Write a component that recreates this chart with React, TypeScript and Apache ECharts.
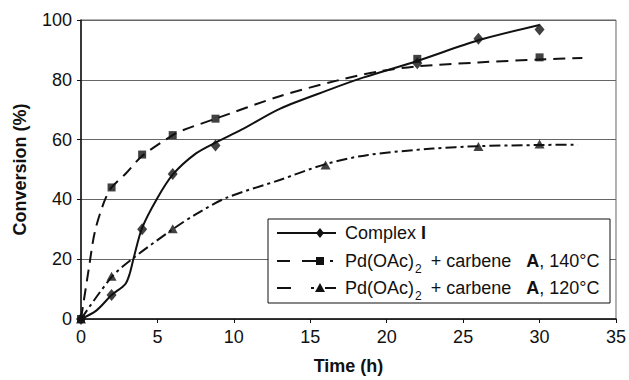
import React, { useEffect, useRef } from "react";
import * as echarts from "echarts";

// Measured points (markers)
const complexPts: number[][] = [[0, 0], [2, 8], [4, 30], [6, 48.5], [8.8, 58], [22, 85.5], [26, 93.7], [30, 96.8]];
const pd140Pts: number[][] = [[0, 0], [2, 44], [4, 55], [6, 61.5], [8.8, 67], [22, 87], [30, 87.5]];
const pd120Pts: number[][] = [[0, 0], [2, 14.3], [6, 30.2], [16, 51.5], [26, 57.7], [30, 58.5]];

// Curves (fitted lines drawn in the original)
const complexCurve: number[][] = [[0, 0], [1, 2.8], [2, 8], [2.9, 11.7], [3.2, 15.4], [3.45, 20.5], [4, 30.5], [5, 40.5], [6, 48.3], [7.5, 55.3], [8.8, 59], [10.5, 63.3], [13, 70.3], [16.3, 76.8], [18.5, 80.8], [22, 86.3], [26, 93.2], [30, 98.3]];
const pd140Curve: number[][] = [[0, 0], [0.5, 16.5], [0.9, 29], [1.5, 39], [2, 44], [2.9, 48.5], [4, 54.5], [6, 61.5], [6.7, 63.2], [8.8, 67], [13, 74.5], [16.8, 79.8], [19.5, 82.8], [22, 84.5], [26, 85.8], [30, 86.8], [32.8, 87.3]];
const pd120Curve: number[][] = [[0, 0], [2, 14], [3.4, 20.3], [6, 30], [7.5, 35], [9.5, 40.5], [13, 46.5], [16, 51.8], [18.7, 54.8], [23, 57], [26, 57.8], [30, 58.2], [32.5, 58.3]];

const xTicks = { min: 0, max: 35, interval: 5 };
const yTicks = { min: 0, max: 100, interval: 20 };

const FONT = "'Liberation Sans', Arial, sans-serif";
const INK = "#111";

export default function App() {
  const ref = useRef<HTMLDivElement>(null);
  useEffect(() => {
    if (!ref.current) return;
    const chart = echarts.init(ref.current, undefined, { renderer: "svg" });
    const lx = 268, ly = 219, lw = 342, lh = 84;
    const rows = [233, 261, 288];
    const mainRich = {
      a: { fontSize: 18, fontFamily: FONT, fill: INK, lineHeight: 20 },
      b: { fontSize: 18, fontFamily: FONT, fill: INK, fontWeight: "bold", lineHeight: 20 },
      s: { fontSize: 12, fontFamily: FONT, fill: INK, verticalAlign: "bottom", lineHeight: 28, padding: [0, 4, 0, 1] },
    };
    const option: any = {
      animation: false,
      backgroundColor: "#fff",
      grid: { left: 81, top: 20, right: 12, bottom: 57, show: true, borderColor: "#666", borderWidth: 1 },
      xAxis: {
        type: "value",
        min: xTicks.min, max: xTicks.max, interval: xTicks.interval,
        name: "Time (h)", nameLocation: "middle", nameGap: 38,
        nameTextStyle: { fontSize: 18, fontWeight: "bold", fontFamily: FONT, color: INK },
        axisLine: { show: true, onZero: false, lineStyle: { color: INK, width: 1.5 } },
        axisTick: { show: true, length: 4, lineStyle: { color: INK } },
        axisLabel: { fontSize: 18, fontFamily: FONT, color: INK, margin: 9 },
        splitLine: { show: false },
      },
      yAxis: {
        type: "value",
        min: yTicks.min, max: yTicks.max, interval: yTicks.interval,
        name: "Conversion (%)", nameLocation: "middle", nameGap: 52, nameRotate: 90,
        nameTextStyle: { fontSize: 18, fontWeight: "bold", fontFamily: FONT, color: INK },
        axisLine: { show: true, lineStyle: { color: INK, width: 1.5 } },
        axisTick: { show: true, length: 4, lineStyle: { color: INK } },
        axisLabel: { fontSize: 18, fontFamily: FONT, color: INK, margin: 9 },
        splitLine: { show: true, lineStyle: { color: "#666", width: 1 } },
      },
      series: [
        { type: "line", data: complexCurve, symbol: "none", smooth: 0.3, lineStyle: { color: INK, width: 2 }, z: 3 },
        { type: "line", data: pd140Curve, symbol: "none", smooth: 0.3, lineStyle: { color: INK, width: 2, type: [12, 7] }, z: 3 },
        { type: "line", data: pd120Curve, symbol: "none", smooth: 0.3, lineStyle: { color: INK, width: 2, type: [11, 4, 3, 4] }, z: 3 },
        { type: "scatter", data: complexPts, symbol: "diamond", symbolSize: [10, 12], itemStyle: { color: INK }, z: 4 },
        { type: "scatter", data: pd140Pts, symbol: "rect", symbolSize: 8, itemStyle: { color: INK }, z: 4 },
        { type: "scatter", data: pd120Pts, symbol: "triangle", symbolSize: [10, 9], itemStyle: { color: INK }, z: 4 },
      ],
      graphic: [
        { type: "rect", shape: { x: lx, y: ly, width: lw, height: lh }, style: { fill: "#fff", stroke: INK, lineWidth: 1 }, z: 10 },
        // row 1
        { type: "line", shape: { x1: 277, y1: rows[0], x2: 336, y2: rows[0] }, style: { stroke: INK, lineWidth: 2 }, z: 11 },
        { type: "polygon", shape: { points: [[320, rows[0] - 5], [324, rows[0]], [320, rows[0] + 5], [316, rows[0]]] }, style: { fill: INK }, z: 11 },
        { type: "text", x: 345, y: rows[0], style: { text: "{a|Complex }{b|I}", rich: mainRich, verticalAlign: "middle", fill: INK }, z: 11 },
        // row 2
        { type: "line", shape: { x1: 277, y1: rows[1], x2: 290, y2: rows[1] }, style: { stroke: INK, lineWidth: 2 }, z: 11 },
        { type: "line", shape: { x1: 302, y1: rows[1], x2: 316, y2: rows[1] }, style: { stroke: INK, lineWidth: 2 }, z: 11 },
        { type: "rect", shape: { x: 316, y: rows[1] - 4, width: 8, height: 8 }, style: { fill: INK }, z: 11 },
        { type: "line", shape: { x1: 330, y1: rows[1], x2: 333, y2: rows[1] }, style: { stroke: INK, lineWidth: 2 }, z: 11 },
        { type: "text", x: 345, y: rows[1], style: { text: "{a|Pd(OAc)}{s|2}{a| + carbene   }{b|A}{a|, 140°C}", rich: mainRich, verticalAlign: "middle", fill: INK }, z: 11 },
        // row 3
        { type: "line", shape: { x1: 277, y1: rows[2], x2: 291, y2: rows[2] }, style: { stroke: INK, lineWidth: 2 }, z: 11 },
        { type: "line", shape: { x1: 311, y1: rows[2], x2: 314, y2: rows[2] }, style: { stroke: INK, lineWidth: 2 }, z: 11 },
        { type: "polygon", shape: { points: [[320, rows[2] - 5], [325, rows[2] + 4], [315, rows[2] + 4]] }, style: { fill: INK }, z: 11 },
        { type: "line", shape: { x1: 325, y1: rows[2], x2: 336, y2: rows[2] }, style: { stroke: INK, lineWidth: 2 }, z: 11 },
        { type: "text", x: 345, y: rows[2], style: { text: "{a|Pd(OAc)}{s|2}{a| + carbene   }{b|A}{a|, 120°C}", rich: mainRich, verticalAlign: "middle", fill: INK }, z: 11 },
      ],
    };
    chart.setOption(option);
    return () => chart.dispose();
  }, []);
  return <div ref={ref} style={{ width: 629, height: 380, position: "absolute", left: 0, top: 0 }} />;
}
